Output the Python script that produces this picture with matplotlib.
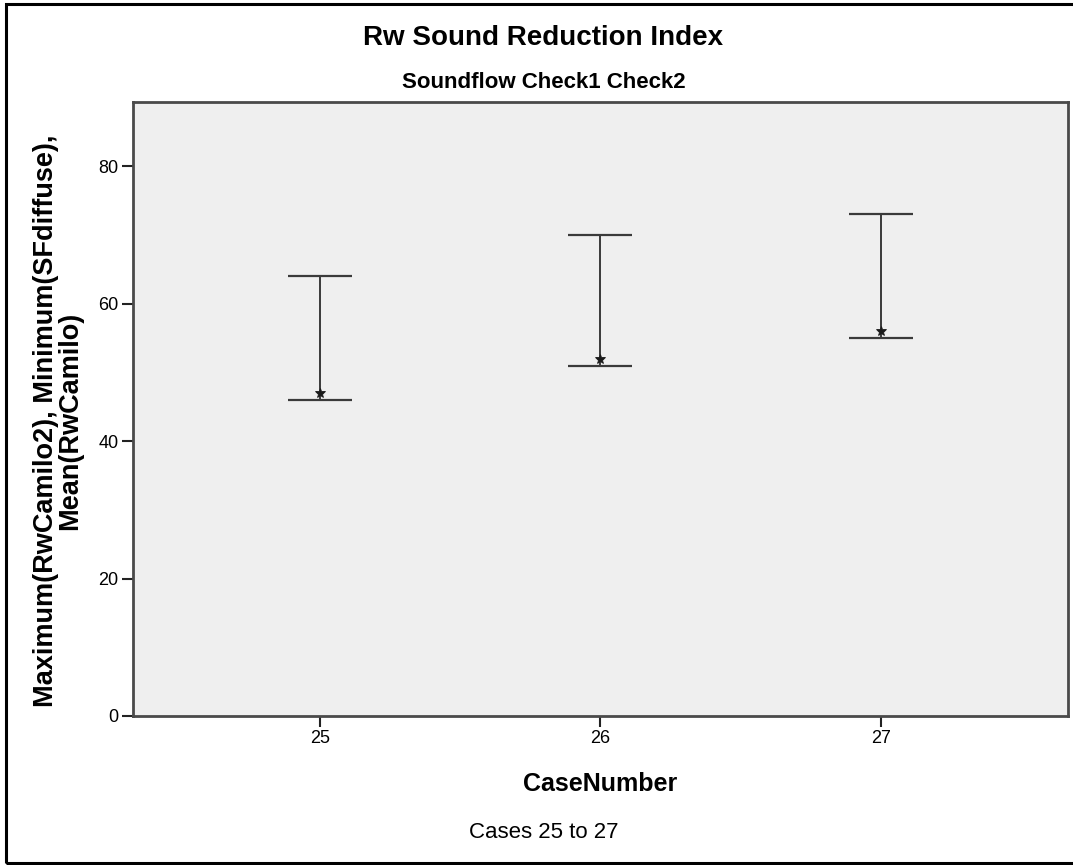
import matplotlib as mpl
from matplotlib import pyplot as plt
from matplotlib.patches import Rectangle

mpl.rcParams["font.family"] = ["Liberation Sans", "DejaVu Sans"]

cases = [25, 26, 27]
rw_max = [64, 70, 73]      # Maximum(RwCamilo2)
sf_min = [46, 51, 55]      # Minimum(SFdiffuse)
rw_mean = [47, 52, 56]     # Mean(RwCamilo)
yticks = [0, 20, 40, 60, 80]

fig = plt.figure(figsize=(10.73, 8.65), dpi=100)
ax = fig.add_axes([132.5 / 1073, 1 - 716 / 865, (1068 - 132.5) / 1073, (716 - 101.7) / 865])
ax.set_facecolor("#efefef")

# whiskers from min to max, star at the mean
lower = [m - lo for m, lo in zip(rw_mean, sf_min)]
upper = [hi - m for m, hi in zip(rw_mean, rw_max)]
ax.errorbar(cases, rw_mean, yerr=[lower, upper], fmt="none", ecolor="#3a3a3a",
            elinewidth=1.4, capsize=23, capthick=1.6)
ax.plot(cases, rw_mean, linestyle="none", marker="*", markersize=7,
        color="#1a1a1a", markeredgewidth=0.6)

ax.set_xlim(24.333, 27.667)
ax.set_ylim(0, 89.4)
ax.set_xticks(cases)
ax.set_yticks(yticks)
ax.tick_params(direction="out", length=8, width=1.5, color="#222222",
               labelsize=13, pad=2)
for s in ax.spines.values():
    s.set_linewidth(2)
    s.set_color("#4a4a4a")

ax.set_xlabel("CaseNumber", fontsize=18, fontweight="bold", labelpad=18)
ax.set_ylabel("Maximum(RwCamilo2), Minimum(SFdiffuse),\nMean(RwCamilo)",
              fontsize=19.5, fontweight="bold", linespacing=0.88, va="center")
ax.yaxis.set_label_coords((58 - 132.5) / 935.5, 0.48)

fig.text(0.506, 1 - 38 / 865, "Rw Sound Reduction Index", ha="center", va="center",
         fontsize=20, fontweight="bold")
fig.text(0.507, 1 - 82 / 865, "Soundflow Check1 Check2", ha="center", va="center",
         fontsize=16, fontweight="bold")
fig.text(544 / 1073, 1 - 833 / 865, "Cases 25 to 27", ha="center", va="center",
         fontsize=16)

# outer frame (right side falls outside the picture)
fig.patches.append(Rectangle((6 / 1073, 2 / 865), 1080 / 1073, 859 / 865,
                             transform=fig.transFigure, fill=False,
                             edgecolor="black", linewidth=2.2))

plt.savefig("out.png", dpi=100)
